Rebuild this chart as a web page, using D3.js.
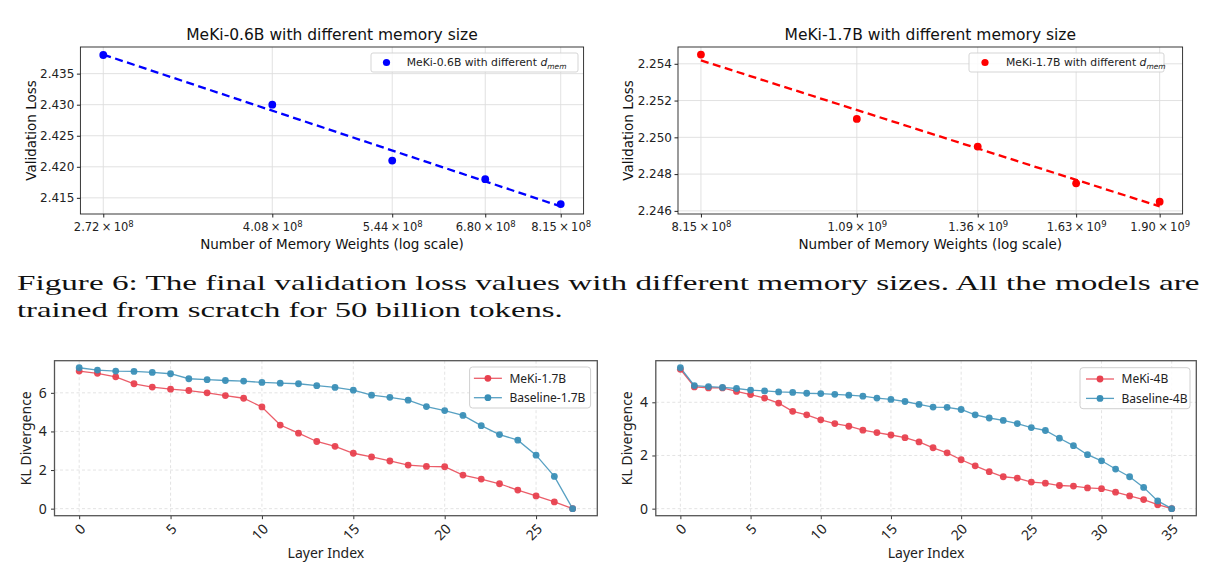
<!DOCTYPE html>
<html><head><meta charset="utf-8">
<script src="https://cdn.jsdelivr.net/npm/d3@7"></script>
<style>body{margin:0;background:#fff} svg{display:block}</style>
</head><body>
<svg id="fig" width="1218" height="583"></svg>
<script>
// ---------- data ----------
const mem06Weights = [2.72e8, 4.08e8, 5.44e8, 6.80e8, 8.15e8];
const mem06Loss = [2.438, 2.430, 2.421, 2.418, 2.414];
const mem06TickMantissa = ["2.72", "4.08", "5.44", "6.80", "8.15"];
const mem06TickExp = ["8", "8", "8", "8", "8"];
const mem06YTicks = [2.415, 2.420, 2.425, 2.430, 2.435];

const mem17Weights = [8.15e8, 1.087e9, 1.359e9, 1.630e9, 1.902e9];
const mem17Loss = [2.2545, 2.2510, 2.2495, 2.2475, 2.2465];
const mem17TickMantissa = ["8.15", "1.09", "1.36", "1.63", "1.90"];
const mem17TickExp = ["8", "9", "9", "9", "9"];
const mem17YTicks = [2.246, 2.248, 2.250, 2.252, 2.254];

const kl17Meki = [7.13,7.01,6.83,6.47,6.30,6.19,6.12,6.00,5.86,5.72,5.27,4.33,3.91,3.48,3.23,2.87,2.68,2.47,2.26,2.19,2.17,1.74,1.53,1.29,0.96,0.66,0.35,0.00];
const kl17Base = [7.30,7.18,7.13,7.11,7.06,6.99,6.73,6.68,6.64,6.61,6.54,6.50,6.47,6.37,6.28,6.14,5.88,5.77,5.62,5.29,5.08,4.83,4.30,3.84,3.55,2.77,1.67,0.00];
const kl17XTicks = [0, 5, 10, 15, 20, 25];
const kl17YTicks = [0, 2, 4, 6];

const kl4Meki = [5.24,4.58,4.54,4.54,4.41,4.29,4.16,3.97,3.66,3.53,3.34,3.20,3.10,2.95,2.86,2.77,2.67,2.51,2.29,2.10,1.84,1.61,1.39,1.20,1.15,1.00,0.96,0.87,0.85,0.78,0.75,0.62,0.48,0.34,0.15,0.00];
const kl4Base = [5.30,4.63,4.59,4.56,4.52,4.46,4.43,4.39,4.37,4.34,4.33,4.30,4.27,4.23,4.16,4.11,4.03,3.92,3.82,3.81,3.73,3.53,3.41,3.32,3.20,3.05,2.94,2.65,2.37,2.03,1.80,1.49,1.20,0.80,0.29,0.00];
const kl4XTicks = [0, 5, 10, 15, 20, 25, 30, 35];
const kl4YTicks = [0, 2, 4];

const captionLines = [
  "Figure 6: The final validation loss values with different memory sizes. All the models are",
  "trained from scratch for 50 billion tokens."
];

// ---------- drawing ----------
const svg = d3.select('#fig');
const TOPFONT = "'DejaVu Sans', sans-serif";
const BOTFONT = "'Noto Sans', 'DejaVu Sans', sans-serif";

function memPanel(c) {
  const g = svg.append('g');
  const b = c.box;
  const lx = c.xs.map(Math.log);
  const mx = d3.mean(lx), my = d3.mean(c.ys);
  const slope = d3.sum(lx.map((v, i) => (v - mx) * (c.ys[i] - my))) / d3.sum(lx.map(v => (v - mx) ** 2));
  const icpt = my - slope * mx;
  const fit = [c.xs[0], c.xs[c.xs.length - 1]].map(x => ({x, y: icpt + slope * Math.log(x)}));
  const lo = Math.min(d3.min(c.ys), d3.min(fit, d => d.y));
  const hi = Math.max(d3.max(c.ys), d3.max(fit, d => d.y));
  const pad = (hi - lo) * 0.05;
  const l0 = lx[0], l1 = lx[lx.length - 1], lp = (l1 - l0) * 0.05;
  const x = d3.scaleLog().domain([Math.exp(l0 - lp), Math.exp(l1 + lp)]).range([b.l, b.r]);
  const y = d3.scaleLinear().domain([lo - pad, hi + pad]).range([b.b, b.t]);

  // grid
  g.append('g').selectAll('line').data(c.xs).join('line')
    .attr('x1', d => x(d)).attr('x2', d => x(d)).attr('y1', b.t).attr('y2', b.b)
    .attr('stroke', '#dedede').attr('stroke-width', 0.9);
  g.append('g').selectAll('line').data(c.yTicks).join('line')
    .attr('y1', d => y(d)).attr('y2', d => y(d)).attr('x1', b.l).attr('x2', b.r)
    .attr('stroke', '#dedede').attr('stroke-width', 0.9);

  // fit line
  g.append('path').datum(fit)
    .attr('d', d3.line().x(d => x(d.x)).y(d => y(d.y)))
    .attr('fill', 'none').attr('stroke', c.color).attr('stroke-width', 2.3)
    .attr('stroke-dasharray', '8,4.5');
  // points
  g.append('g').selectAll('circle').data(c.xs).join('circle')
    .attr('cx', d => x(d)).attr('cy', (d, i) => y(c.ys[i])).attr('r', 3.9).attr('fill', c.color);

  // axes
  const xa = g.append('g').attr('transform', `translate(0,${b.b})`)
    .call(d3.axisBottom(x).tickValues(c.xs).tickSize(3.5).tickPadding(5.5).tickFormat(() => ''));
  xa.select('.domain').remove();
  xa.attr('font-family', TOPFONT).attr('font-size', 11.5).attr('color', '#222');
  xa.selectAll('.tick text').each(function (d, i) {
    const t = d3.select(this);
    t.append('tspan').text(c.mant[i] + '\u2009\u00d7\u200910');
    t.append('tspan').attr('dy', '-0.45em').attr('font-size', '8.5px').text(c.exps[i]);
  });
  const ya = g.append('g').attr('transform', `translate(${b.l},0)`)
    .call(d3.axisLeft(y).tickValues(c.yTicks).tickSize(3.5).tickPadding(2.5).tickFormat(d3.format('.3f')));
  ya.select('.domain').remove();
  ya.attr('font-family', TOPFONT).attr('font-size', 12).attr('color', '#222');

  // frame
  g.append('rect').attr('x', b.l).attr('y', b.t).attr('width', b.r - b.l).attr('height', b.b - b.t)
    .attr('fill', 'none').attr('stroke', '#222').attr('stroke-width', 0.9);

  const cx = (b.l + b.r) / 2;
  g.append('text').attr('x', cx).attr('y', 39.5).attr('text-anchor', 'middle')
    .attr('font-family', TOPFONT).attr('font-size', 15.5).attr('fill', '#111').text(c.title);
  g.append('text').attr('x', cx).attr('y', 249).attr('text-anchor', 'middle')
    .attr('font-family', TOPFONT).attr('font-size', 13.5).attr('fill', '#111')
    .text('Number of Memory Weights (log scale)');
  g.append('text').attr('transform', `translate(${c.ylabX},${(b.t + b.b) / 2}) rotate(-90)`)
    .attr('text-anchor', 'middle').attr('font-family', TOPFONT).attr('font-size', 13.5).attr('fill', '#111')
    .text('Validation Loss');

  // legend
  const L = c.legend;
  g.append('rect').attr('x', L.x).attr('y', L.y).attr('width', L.w).attr('height', L.h).attr('rx', 2)
    .attr('fill', '#fff').attr('fill-opacity', 0.85).attr('stroke', '#d0d0d0').attr('stroke-width', 0.9);
  g.append('circle').attr('cx', L.mx).attr('cy', L.y + L.h / 2).attr('r', 3.6).attr('fill', c.color);
  const lt = g.append('text').attr('x', L.tx).attr('y', L.y + L.h / 2 + 3.8)
    .attr('font-family', TOPFONT).attr('font-size', 10.8).attr('fill', '#222');
  lt.append('tspan').text(c.model + ' with different ');
  lt.append('tspan').attr('font-style', 'italic').text('d');
  lt.append('tspan').attr('font-style', 'italic').attr('font-size', '7.5px').attr('dy', '2.5').text('mem');
}

function klPanel(c) {
  const g = svg.append('g');
  const b = c.box;
  const n = c.meki.length;
  const x = d3.scaleLinear().domain([-(n - 1) * 0.05, (n - 1) * 1.05]).range([b.l, b.r]);
  const all = c.meki.concat(c.base);
  const lo = d3.min(all), hi = d3.max(all), pad = (hi - lo) * 0.05;
  const y = d3.scaleLinear().domain([lo - pad, hi + pad]).range([b.b, b.t]);

  g.append('g').selectAll('line').data(c.xTicks).join('line')
    .attr('x1', d => x(d)).attr('x2', d => x(d)).attr('y1', b.t).attr('y2', b.b)
    .attr('stroke', '#dcdcdc').attr('stroke-width', 0.8).attr('stroke-dasharray', '3,2.5');
  g.append('g').selectAll('line').data(c.yTicks).join('line')
    .attr('y1', d => y(d)).attr('y2', d => y(d)).attr('x1', b.l).attr('x2', b.r)
    .attr('stroke', '#dcdcdc').attr('stroke-width', 0.8).attr('stroke-dasharray', '3,2.5');

  const series = [
    {vals: c.meki, color: '#e8414f'},
    {vals: c.base, color: '#3a8fb7'}
  ];
  const line = d3.line().x((d, i) => x(i)).y(d => y(d));
  series.forEach(s => {
    g.append('path').datum(s.vals).attr('d', line).attr('fill', 'none')
      .attr('stroke', s.color).attr('stroke-width', 1.3).attr('stroke-opacity', 0.85);
  });
  series.forEach(s => {
    g.append('g').selectAll('circle').data(s.vals).join('circle')
      .attr('cx', (d, i) => x(i)).attr('cy', d => y(d)).attr('r', 3.4)
      .attr('fill', s.color).attr('fill-opacity', 0.95);
  });

  const xa = g.append('g').attr('transform', `translate(0,${b.b})`)
    .call(d3.axisBottom(x).tickValues(c.xTicks).tickSize(3.5).tickFormat(() => ''));
  xa.select('.domain').remove();
  xa.attr('color', '#333');
  xa.selectAll('.tick text').remove();
  g.append('g').selectAll('text').data(c.xTicks).join('text')
    .attr('transform', d => `translate(${x(d)},${b.b + 7}) rotate(-45)`)
    .attr('text-anchor', 'end').attr('dy', '0.72em')
    .attr('font-family', BOTFONT).attr('font-size', 14).attr('fill', '#222')
    .text(d => d);

  const ya = g.append('g').attr('transform', `translate(${b.l},0)`)
    .call(d3.axisLeft(y).tickValues(c.yTicks).tickSize(3.5).tickPadding(4.3).tickFormat(d3.format('d')));
  ya.select('.domain').remove();
  ya.attr('font-family', BOTFONT).attr('font-size', 14).attr('color', '#333');
  ya.selectAll('.tick text').attr('fill', '#222');

  g.append('rect').attr('x', b.l).attr('y', b.t).attr('width', b.r - b.l).attr('height', b.b - b.t)
    .attr('fill', 'none').attr('stroke', '#555').attr('stroke-width', 1.3);

  g.append('text').attr('x', (b.l + b.r) / 2).attr('y', 558).attr('text-anchor', 'middle')
    .attr('font-family', BOTFONT).attr('font-size', 14).attr('fill', '#222').text('Layer Index');
  g.append('text').attr('transform', `translate(${c.ylabX},${(b.t + b.b) / 2}) rotate(-90)`)
    .attr('text-anchor', 'middle').attr('font-family', BOTFONT).attr('font-size', 14).attr('fill', '#222')
    .text('KL Divergence');

  const L = c.legend;
  g.append('rect').attr('x', L.x).attr('y', L.y).attr('width', L.w).attr('height', L.h).attr('rx', 3)
    .attr('fill', '#fff').attr('fill-opacity', 0.85).attr('stroke', '#d0d0d0').attr('stroke-width', 1);
  c.labels.forEach((lab, k) => {
    const yy = L.y + 11.3 + k * 19.4;
    g.append('line').attr('x1', L.lx).attr('x2', L.lx + 28).attr('y1', yy).attr('y2', yy)
      .attr('stroke', series[k].color).attr('stroke-width', 1.3).attr('stroke-opacity', 0.85);
    g.append('circle').attr('cx', L.lx + 14).attr('cy', yy).attr('r', 3.4).attr('fill', series[k].color);
    g.append('text').attr('x', L.lx + 35.5).attr('y', yy + 4.3)
      .attr('font-family', BOTFONT).attr('font-size', 12).attr('fill', '#222').text(lab);
  });
}

memPanel({
  box: {l: 80.4, r: 583.6, t: 47, b: 214},
  xs: mem06Weights, ys: mem06Loss, mant: mem06TickMantissa, exps: mem06TickExp, yTicks: mem06YTicks,
  color: '#0000ff', title: 'MeKi-0.6B with different memory size', model: 'MeKi-0.6B', ylabX: 36,
  legend: {x: 371, y: 53, w: 207, h: 19, mx: 386.5, tx: 406.8}
});
memPanel({
  box: {l: 678, r: 1182.6, t: 47, b: 214},
  xs: mem17Weights, ys: mem17Loss, mant: mem17TickMantissa, exps: mem17TickExp, yTicks: mem17YTicks,
  color: '#ff0000', title: 'MeKi-1.7B with different memory size', model: 'MeKi-1.7B', ylabX: 633,
  legend: {x: 969, y: 53, w: 195, h: 19, mx: 985, tx: 1006}
});
klPanel({
  box: {l: 54.5, r: 597.3, t: 360.7, b: 515.7},
  meki: kl17Meki, base: kl17Base, xTicks: kl17XTicks, yTicks: kl17YTicks,
  labels: ['MeKi-1.7B', 'Baseline-1.7B'], ylabX: 31.4,
  legend: {x: 469.6, y: 367, w: 121, h: 41, lx: 473.9}
});
klPanel({
  box: {l: 655.8, r: 1196.3, t: 360.7, b: 515.7},
  meki: kl4Meki, base: kl4Base, xTicks: kl4XTicks, yTicks: kl4YTicks,
  labels: ['MeKi-4B', 'Baseline-4B'], ylabX: 631.6,
  legend: {x: 1080, y: 367.7, w: 110, h: 41, lx: 1086}
});

// caption: stretch glyphs uniformly to the measured line widths
const capW = [1183, 546];
captionLines.forEach((s, i) => {
  const t = svg.append('text').attr('x', 0).attr('y', 0)
    .attr('font-family', "'Liberation Serif', 'DejaVu Serif', serif").attr('font-size', 22)
    .attr('fill', '#111').text(s);
  const w = t.node().getComputedTextLength();
  t.attr('transform', `translate(17,${290 + i * 27.3}) scale(${capW[i] / w},1)`);
});
</script>
</body></html>
